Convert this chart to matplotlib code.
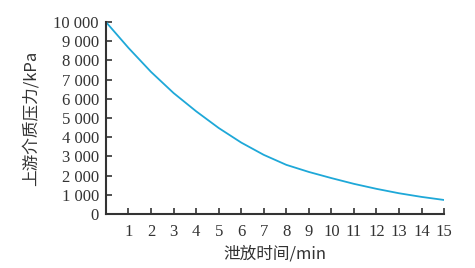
import matplotlib
matplotlib.use("Agg")
import matplotlib.pyplot as plt

time_min = [0, 1, 2, 3, 4, 5, 6, 7, 8, 9, 10, 11, 12, 13, 14, 15]
pressure_kpa = [10000, 8650, 7400, 6300, 5350, 4480, 3720, 3080, 2560, 2190,
                1870, 1570, 1310, 1080, 890, 730]
x_ticks = list(range(1, 16))
y_ticks = list(range(0, 10001, 1000))
y_tick_labels = ["0", "1 000", "2 000", "3 000", "4 000", "5 000", "6 000",
                 "7 000", "8 000", "9 000", "10 000"]

plt.rcParams["font.family"] = ["Liberation Serif", "Noto Sans CJK SC", "DejaVu Serif"]
cjk = ["Noto Sans CJK SC", "DejaVu Sans"]

fig = plt.figure(figsize=(4.75, 2.68), dpi=100)
ax = fig.add_axes([0.223, 0.2015, 0.712, 0.7165])
ax.plot(time_min, pressure_kpa, color="#1ea8d8", lw=1.3)
ax.set_xlim(0, 15)
ax.set_ylim(0, 10000)
ax.set_xticks(x_ticks)
ax.set_yticks(y_ticks)
ax.set_yticklabels(y_tick_labels)
for s in ["top", "right"]:
    ax.spines[s].set_visible(False)
for s in ["left", "bottom"]:
    ax.spines[s].set_color("#333333")
    ax.spines[s].set_linewidth(1.5)
ax.tick_params(direction="in", length=4, width=1.2, color="#333333",
               labelsize=12, labelcolor="#333333")
ax.tick_params(axis="x", pad=7)
ax.tick_params(axis="y", pad=5)
ax.set_xlabel("泄放时间/min", family=cjk, fontsize=12, color="#333333", labelpad=4)
ax.set_ylabel("上游介质压力/kPa", family=cjk, fontsize=12, color="#333333", labelpad=10)
fig.savefig("out.png", dpi=100)
